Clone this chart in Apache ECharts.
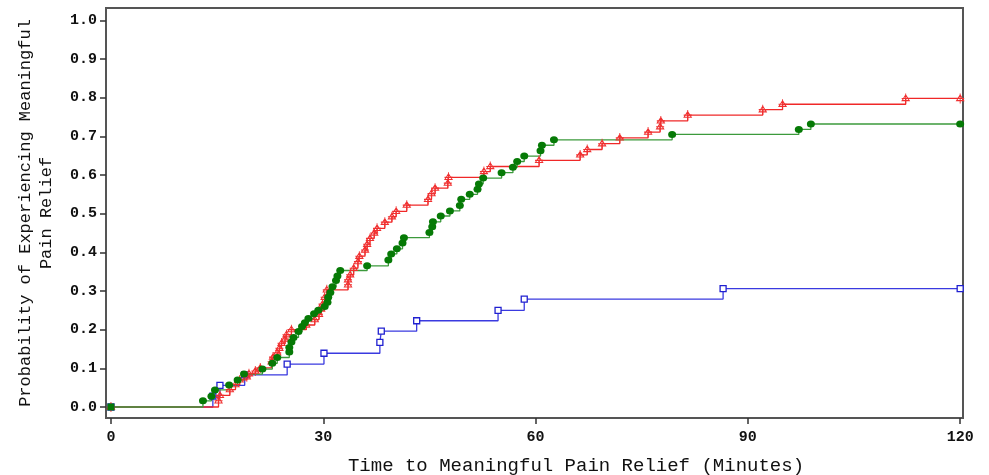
<!DOCTYPE html>
<html>
<head>
<meta charset="utf-8">
<script src="https://cdn.jsdelivr.net/npm/echarts@6/dist/echarts.min.js"></script>
<style>html,body{margin:0;padding:0;background:#fff;}#chart{width:989px;height:475px;}</style>
</head>
<body>
<div id="chart"></div>
<script>
// ---- data (time in minutes, cumulative probability of meaningful pain relief) ----
const xTicks = [0, 30, 60, 90, 120];
const yTicks = [0, 0.1, 0.2, 0.3, 0.4, 0.5, 0.6, 0.7, 0.8, 0.9, 1.0];

const blueTimes = [0, 14.4, 15.4, 18.9, 24.9, 30.1, 38.0, 38.2, 43.2, 54.7, 58.4, 86.5, 120];
const blueProbs = [0, 0.028, 0.056, 0.083, 0.111, 0.139, 0.167, 0.196, 0.223, 0.250, 0.279, 0.306, 0.306];

const redTimes = [0, 15.2, 15.4, 16.8, 17.6, 18.2, 19.2, 19.5, 20.4, 21.1, 22.7, 22.9, 23.5, 23.8, 24.1, 24.6, 24.8, 25.5,
  27.6, 28.8, 29.4, 29.7, 29.9, 30.2, 30.5, 33.5, 33.5, 33.8, 34.3, 34.9, 35.1, 35.9, 36.2, 36.6, 37.2, 37.6, 38.7, 39.7,
  40.3, 41.8, 44.8, 45.3, 45.8, 47.6, 47.7, 52.7, 53.6, 60.5, 66.3, 67.3, 69.4, 71.9, 75.9, 77.6, 77.7, 81.5, 92.1, 94.9,
  112.3, 120];
const redProbs = [0, 0.016, 0.030, 0.045, 0.058, 0.070, 0.078, 0.086, 0.093, 0.101, 0.117, 0.129, 0.140, 0.152, 0.165, 0.176, 0.187, 0.200,
  0.212, 0.226, 0.240, 0.253, 0.266, 0.284, 0.303, 0.316, 0.329, 0.342, 0.359, 0.376, 0.390, 0.406, 0.421, 0.436, 0.450, 0.462, 0.478, 0.492,
  0.506, 0.522, 0.537, 0.552, 0.566, 0.579, 0.594, 0.609, 0.622, 0.638, 0.652, 0.666, 0.681, 0.696, 0.711, 0.725, 0.740, 0.755, 0.769, 0.783,
  0.798, 0.798];

const greenTimes = [0, 13.0, 14.2, 14.7, 16.7, 17.9, 18.8, 21.4, 22.8, 23.5, 25.2, 25.2, 25.5, 25.8, 26.5, 27.0, 27.4, 27.9, 28.7, 29.3,
  30.2, 30.6, 30.7, 31.0, 31.3, 31.8, 32.0, 32.4, 36.2, 39.2, 39.6, 40.4, 41.2, 41.4, 45.0, 45.4, 45.5, 46.6, 47.9, 49.3, 49.5, 50.7,
  51.8, 52.0, 52.6, 55.2, 56.8, 57.4, 58.4, 60.7, 60.9, 62.6, 79.3, 97.2, 98.9, 120];
const greenProbs = [0, 0.016, 0.028, 0.044, 0.057, 0.070, 0.085, 0.098, 0.113, 0.128, 0.142, 0.154, 0.168, 0.180, 0.195, 0.208, 0.218, 0.229, 0.241, 0.250,
  0.260, 0.271, 0.284, 0.296, 0.311, 0.327, 0.339, 0.353, 0.365, 0.380, 0.396, 0.409, 0.424, 0.438, 0.451, 0.466, 0.479, 0.494, 0.507, 0.521, 0.537, 0.550,
  0.563, 0.577, 0.592, 0.606, 0.620, 0.635, 0.649, 0.663, 0.677, 0.691, 0.705, 0.718, 0.732, 0.732];

// ---- build ----
const zip = (a, b) => a.map((t, i) => [t, b[i]]);
const MONO = '"Liberation Mono", "Courier New", "DejaVu Sans Mono", monospace';
const triPlus = 'path://M0,-5L4.5,3L-4.5,3Z M0,-7L0,7 M-5,0L5,0';

const chart = echarts.init(document.getElementById('chart'), null, { renderer: 'canvas' });
chart.setOption({
  animation: false,
  backgroundColor: '#ffffff',
  grid: { left: 106, top: 8, right: 26, bottom: 57, containLabel: false, outerBoundsMode: 'none',
    show: true, borderColor: '#555', borderWidth: 2 },
  xAxis: {
    type: 'value', min: -0.7, max: 120.4,
    name: 'Time to Meaningful Pain Relief (Minutes)',
    nameLocation: 'middle', nameGap: 38,
    nameTextStyle: { fontFamily: MONO, fontSize: 19, color: '#111', padding: [0, 0, 0, 83] },
    axisLine: { show: true, onZero: false, lineStyle: { color: '#555', width: 2 } },
    axisTick: { show: true, customValues: xTicks, length: 6, lineStyle: { color: '#333', width: 1.5 } },
    axisLabel: { customValues: xTicks, margin: 12, fontFamily: MONO, fontWeight: 'bold', fontSize: 15, color: '#111' },
    splitLine: { show: false }
  },
  yAxis: {
    type: 'value', min: -0.0285, max: 1.032,
    name: 'Probability of Experiencing Meaningful\nPain Relief',
    nameLocation: 'middle', nameRotate: 90, nameGap: 49,
    nameTextStyle: { fontFamily: MONO, fontSize: 17, lineHeight: 21, color: '#111', align: 'center' },
    axisLine: { show: true, onZero: false, lineStyle: { color: '#555', width: 2 } },
    axisTick: { show: true, customValues: yTicks, length: 6, lineStyle: { color: '#333', width: 1.5 } },
    axisLabel: { customValues: yTicks, margin: 9, fontFamily: MONO, fontWeight: 'bold', fontSize: 15, color: '#111',
      formatter: v => v.toFixed(1) },
    splitLine: { show: false }
  },
  series: [
    {
      name: 'Blue', type: 'line', step: 'end', data: zip(blueTimes, blueProbs),
      lineStyle: { color: '#3a3ae0', width: 1.3 },
      symbol: 'rect', symbolSize: 6, showAllSymbol: true,
      itemStyle: { color: '#ffffff', borderColor: '#2020d0', borderWidth: 1.3 }
    },
    {
      name: 'Red', type: 'line', step: 'end', data: zip(redTimes, redProbs),
      lineStyle: { color: '#f02828', width: 1.3 },
      symbol: triPlus, symbolSize: [8, 10], showAllSymbol: true,
      itemStyle: { color: 'rgba(0,0,0,0)', borderColor: '#f03030', borderWidth: 1 }
    },
    {
      name: 'Green', type: 'line', step: 'end',
      data: zip(greenTimes, greenProbs).map((p, i) => i === 0 ? { value: p, symbol: 'rect', symbolSize: 7 } : p),
      lineStyle: { color: '#3c9a3c', width: 1.3 },
      symbol: 'circle', symbolSize: [8, 7], showAllSymbol: true,
      itemStyle: { color: '#067a06', borderWidth: 0 }
    }
  ]
});
</script>
</body>
</html>
